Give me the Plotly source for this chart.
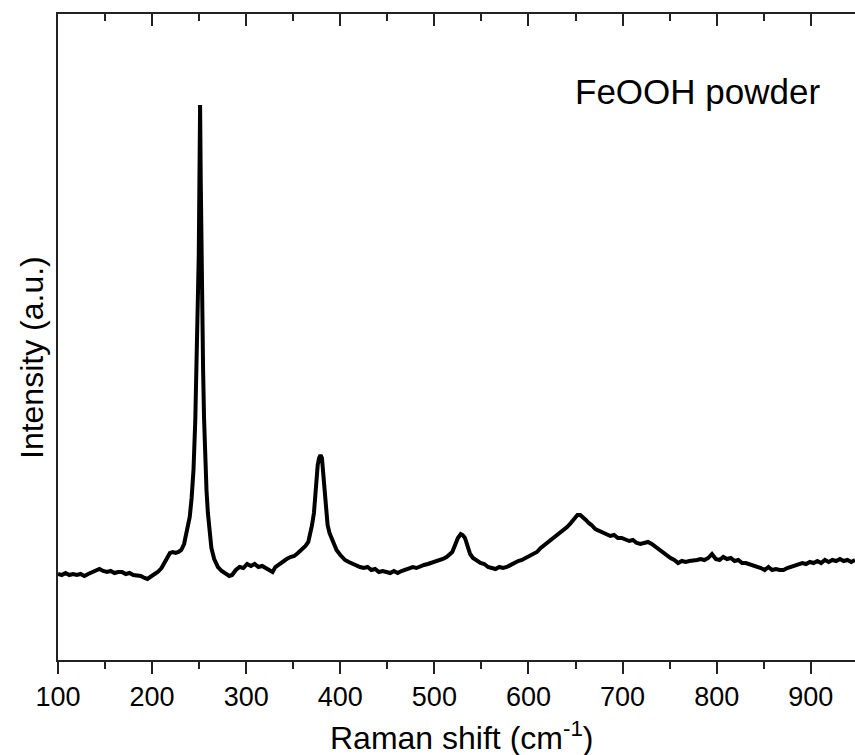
import plotly.graph_objects as go

raman_shift = [
    100, 104, 108, 112, 116, 120, 124, 128, 132, 136, 140, 144, 148, 152, 156, 160,
    164, 168, 172, 176, 180, 184, 188, 192, 195, 198, 202, 206, 210, 213, 216, 219,
    222, 225, 228, 231, 234, 237, 240, 242, 244, 245.9, 247.5, 248.8, 249.6, 250.3,
    251, 251.7, 252.3, 253.2, 254.2, 255.2, 256.5, 257.8, 259.3, 261, 263, 266, 270,
    274, 278, 282, 285, 289, 293, 297, 301, 305, 309, 313, 317, 321, 325, 328, 331,
    335, 339, 343, 347, 351, 355, 359, 363, 366, 368, 370, 372, 373.5, 374.5, 376,
    377.5, 379, 380.5, 382, 383.5, 384.8, 386.5, 388.5, 390.5, 393, 396, 400, 405, 409,
    413, 417, 421, 425, 429, 433, 437, 441, 445, 449, 453, 457, 461, 465, 469, 473,
    477, 481, 485, 489, 493, 497, 501, 505, 509, 513, 516, 519, 522, 525, 528, 530,
    532.5, 535, 538, 541, 545, 549, 553, 557, 561, 565, 569, 573, 577, 581, 585, 589,
    593, 597, 601, 605, 609, 613, 617, 621, 625, 629, 633, 637, 641, 645, 649, 652,
    655, 658, 661, 664, 667, 671, 675, 679, 683, 687, 691, 695, 699, 703, 707, 711,
    715, 719, 723, 727, 731, 735, 739, 743, 747, 751, 755, 759, 763, 767, 771, 775,
    779, 783, 787, 791, 795, 799, 803, 807, 811, 815, 819, 823, 827, 831, 835, 839,
    843, 847, 851, 855, 859, 863, 867, 871, 875, 879, 883, 887, 891, 895, 899, 903,
    907, 911, 915, 919, 923, 927, 931, 935, 939, 943, 947,
]

intensity = [
    86, 85, 87, 85, 86, 85, 86, 84, 86, 88, 90, 91, 89, 88, 89, 87,
    88, 88, 86, 87, 85, 85, 84, 82, 81, 83, 85, 88, 92, 97, 103, 107,
    108, 107, 108, 110, 116, 128, 143, 162, 190, 240, 302, 372, 405, 480,
    555, 480, 405, 345, 290, 242, 200, 170, 147, 128, 112, 101, 93,
    89, 86, 84, 85, 90, 93, 92, 96, 94, 96, 93, 94, 92, 89, 88, 93,
    96, 98, 101, 103, 104, 107, 110, 114, 118, 125, 135, 147, 165, 180, 195,
    202, 205, 202, 182, 162, 147, 135, 127, 123, 117, 110, 105, 100, 98,
    96, 95, 93, 92, 93, 90, 91, 88, 89, 88, 87, 89, 87, 89, 90, 91,
    93, 92, 94, 95, 96, 97, 98, 99, 101, 103, 105, 108, 115, 122, 126, 125,
    122, 114, 106, 102, 99, 97, 96, 93, 92, 91, 93, 92, 93, 95, 98, 99,
    100, 102, 103, 106, 108, 112, 115, 117, 120, 123, 126, 129, 133, 137, 142, 145,
    145, 143, 140, 137, 135, 131, 129, 127, 126, 124, 125, 122, 122, 120, 119, 120,
    117, 116, 117, 118, 116, 113, 111, 108, 104, 102, 100, 97, 99, 98, 99, 99,
    100, 101, 100, 102, 106, 101, 100, 103, 101, 102, 99, 100, 97, 97, 96, 94,
    93, 92, 90, 93, 90, 91, 90, 90, 92, 93, 94, 95, 97, 96, 98, 97,
    99, 97, 100, 98, 100, 99, 101, 99, 100, 98, 100,
]

x_ticks = [100, 200, 300, 400, 500, 600, 700, 800, 900]
x_range = [100, 947]
y_range = [0, 646]

FONT = "Liberation Sans, Arial, sans-serif"
AXC = "#222222"

fig = go.Figure()
fig.add_trace(go.Scatter(
    x=raman_shift, y=intensity, mode="lines",
    line=dict(color="black", width=4), showlegend=False, hoverinfo="skip",
))
fig.add_trace(go.Scatter(x=[None], y=[None], xaxis="x2", mode="lines", showlegend=False, hoverinfo="skip"))

fig.update_layout(
    width=855, height=755,
    margin=dict(l=58, r=0, t=14, b=95),
    paper_bgcolor="white", plot_bgcolor="white",
    font=dict(family=FONT, color="black"),
    xaxis=dict(
        range=x_range, tickvals=x_ticks, ticktext=[str(t) for t in x_ticks],
        ticks="outside", ticklen=12, tickwidth=2, tickcolor=AXC,
        showline=True, linewidth=2, linecolor=AXC,
        showgrid=False, zeroline=False,
        tickfont=dict(size=27, family=FONT, color="black"),
        minor=dict(dtick=50, ticks="outside", ticklen=7, tickwidth=2, tickcolor=AXC, showgrid=False),
    ),
    xaxis2=dict(
        range=x_range, overlaying="x", side="top", anchor="y",
        tickvals=x_ticks, showticklabels=False,
        ticks="inside", ticklen=12, tickwidth=2, tickcolor=AXC,
        showline=True, linewidth=2, linecolor=AXC,
        showgrid=False, zeroline=False,
        minor=dict(dtick=50, ticks="inside", ticklen=7, tickwidth=2, tickcolor=AXC, showgrid=False),
    ),
    yaxis=dict(
        range=y_range, showticklabels=False, ticks="",
        showline=True, linewidth=2, linecolor=AXC,
        showgrid=False, zeroline=False,
    ),
    annotations=[
        dict(text="FeOOH powder", xref="paper", yref="paper", x=(822 - 58) / 797, y=(660 - 91) / 646,
             xanchor="right", yanchor="middle", showarrow=False, font=dict(size=35, family=FONT, color="black")),
        dict(text="Raman shift (cm<sup>-1</sup>)", xref="paper", yref="paper", x=(462 - 58) / 797, y=(660 - 736) / 646,
             xanchor="center", yanchor="middle", showarrow=False, font=dict(size=32, family=FONT, color="black")),
        dict(text="Intensity (a.u.)", xref="paper", yref="paper", x=(32 - 58) / 797, y=(660 - 358) / 646,
             xanchor="center", yanchor="middle", textangle=-90, showarrow=False,
             font=dict(size=32, family=FONT, color="black")),
    ],
)

fig.write_html("out.html")
